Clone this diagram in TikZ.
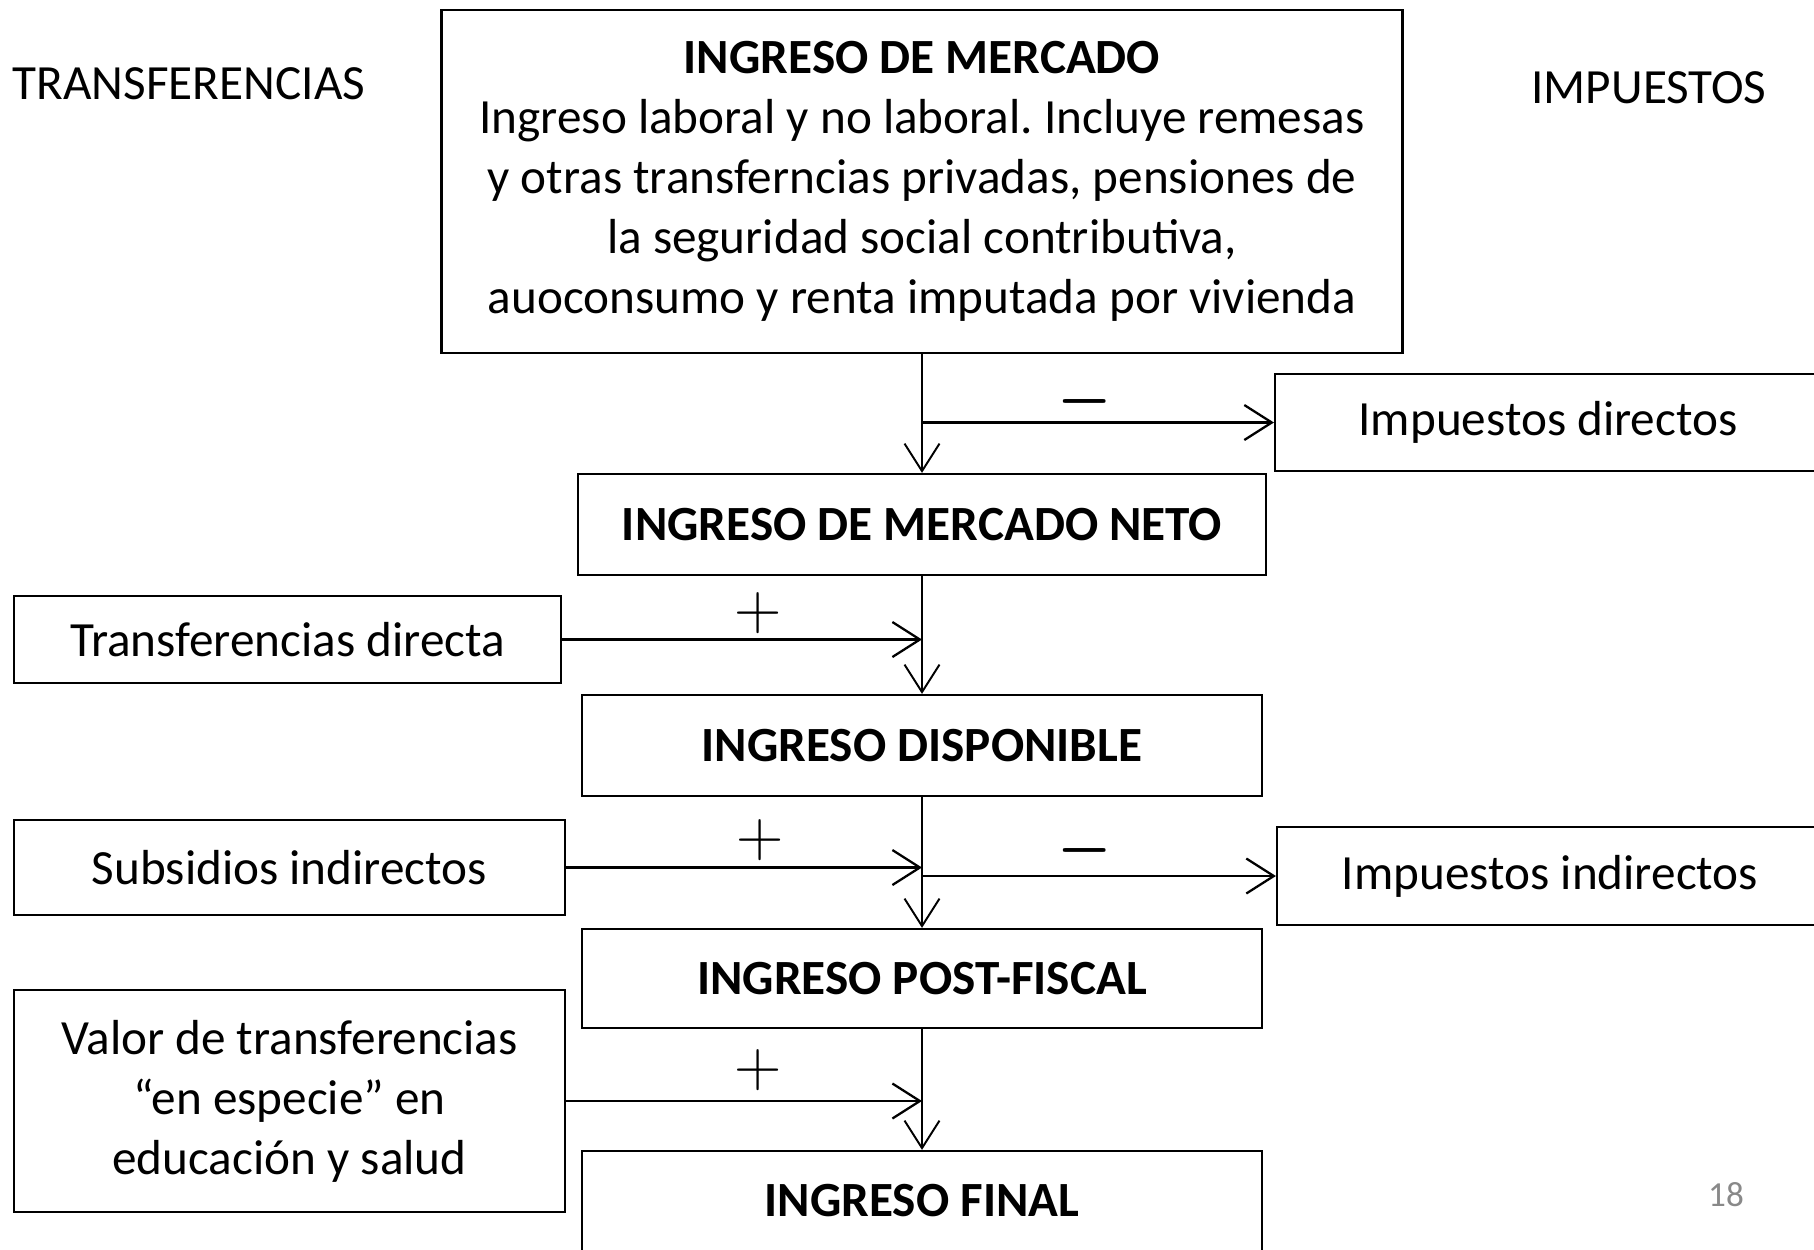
\documentclass[tikz,border=0pt]{standalone}
\usepackage{fontspec}
\setmainfont{Carlito}
\usetikzlibrary{arrows.meta}
\definecolor{pagina}{RGB}{137,137,137}
\tikzset{caja/.style={draw,line width=1.3pt,align=center,inner sep=0pt},
  flecha/.style={line width=1.6pt,-{Straight Barb[length=0.55cm,width=0.7cm,line width=1.3pt]}},
  bajada/.style={line width=1pt,-{Straight Barb[length=0.55cm,width=0.7cm,line width=1.1pt]}},
  signo/.style={font=\fontsize{34}{34}\selectfont,inner sep=0pt}}
\newcommand{\mas}{\scalebox{1.5}{$+$}}
\newcommand{\menos}{\scalebox{1.6}[2.2]{$-$}}
\frenchspacing

\begin{document}
\begin{tikzpicture}[x=0.02cm,y=-0.02cm,font=\fontsize{28}{34.1}\selectfont]
\useasboundingbox (0,0) rectangle (1814,1249);
\clip (0,0) rectangle (1814,1249);
% titulos
\node (tr) at (189,84) {TRANSFERENCIAS};
\node (im) at (1649,88) {IMPUESTOS};
% columna central
\node[caja,minimum width=19.22cm,minimum height=6.86cm] (merc) at (922,181.5)
  {\textbf{INGRESO DE MERCADO}\\ Ingreso laboral y no laboral. Incluye remesas\\
   y otras transferncias privadas, pensiones de\\ la seguridad social contributiva,\\
   auoconsumo y renta imputada por vivienda};
\node[caja,minimum width=13.76cm,minimum height=2.02cm] (neto) at (922,524.5) {\textbf{INGRESO DE MERCADO NETO}};
\node[caja,minimum width=13.6cm,minimum height=2.02cm] (disp) at (922,745.5) {\textbf{INGRESO DISPONIBLE}};
\node[caja,minimum width=13.6cm,minimum height=1.98cm] (post) at (922,978.5) {\textbf{INGRESO POST-FISCAL}};
\node[caja,minimum width=13.6cm,minimum height=2.0cm] (fin) at (922,1201) {\textbf{INGRESO FINAL}};
% izquierda
\node[caja,minimum width=10.94cm,minimum height=1.74cm] (tdir) at (287.5,639.5) {Transferencias directa};
\node[caja,minimum width=11.02cm,minimum height=1.9cm] (sub) at (289.5,867.5) {Subsidios indirectos};
\node[caja,minimum width=11.02cm,minimum height=4.44cm] (val) at (289.5,1101)
  {Valor de transferencias\\ “en especie” en\\ educación y salud};
% derecha
\node[caja,minimum width=12.4cm,minimum height=1.94cm] (idir) at (1585,422.5) {\hspace*{-1.48cm}Impuestos directos};
\node[caja,minimum width=12.4cm,minimum height=1.96cm] (iind) at (1587,876) {\hspace*{-1.48cm}Impuestos indirectos};
% flechas
\draw[bajada] (merc.south) -- (neto.north);
\draw[bajada] (neto.south) -- (disp.north);
\draw[bajada] (disp.south) -- (post.north);
\draw[bajada] (post.south) -- (fin.north);
\draw[flecha] (idir.west -| merc.south) -- (idir.west);
\draw[flecha] (iind.west -| disp.south) -- (iind.west);
\draw[flecha] (tdir.east) -- (tdir.east -| neto.south);
\draw[flecha] (sub.east) -- (sub.east -| disp.south);
\draw[flecha] (val.east) -- (val.east -| post.south);
% signos
\node[signo] (menos1) at (1085,401) {\menos};
\node[signo] (mas1) at (758,613) {\mas};
\node[signo] (mas2) at (760,840) {\mas};
\node[signo] (menos2) at (1085,850) {\menos};
\node[signo] (mas3) at (758,1070) {\mas};
\node[pagina,font=\fontsize{20}{24}\selectfont] (num) at (1726,1195) {18};
\end{tikzpicture}
\end{document}
